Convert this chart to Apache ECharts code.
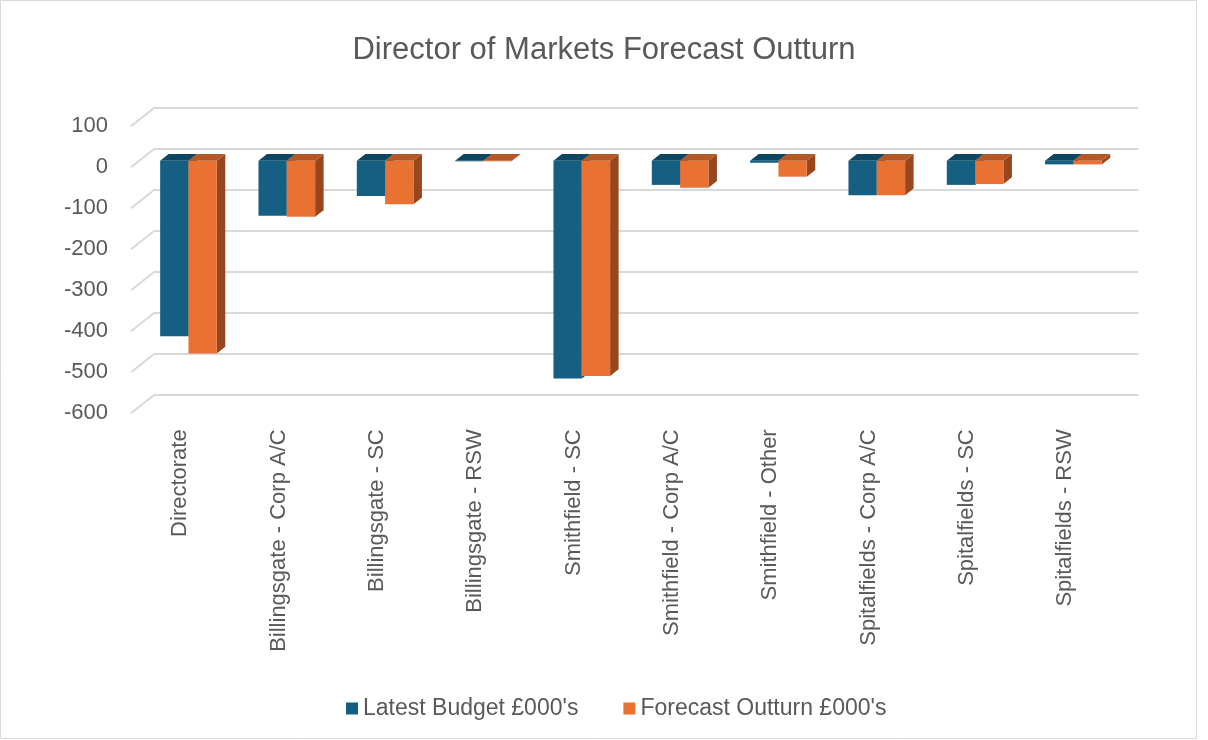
<!DOCTYPE html>
<html>
<head>
<meta charset="utf-8">
<script src="https://cdn.jsdelivr.net/npm/echarts@6/dist/echarts.min.js"></script>
<style>
html,body{margin:0;padding:0;background:#fff;}
#chart{width:1208px;height:740px;}
</style>
</head>
<body>
<div id="chart"></div>
<script>
// ---- data ----
const categories = [
  'Directorate',
  'Billingsgate - Corp A/C',
  'Billingsgate - SC',
  'Billingsgate - RSW',
  'Smithfield - SC',
  'Smithfield - Corp A/C',
  'Smithfield - Other',
  'Spitalfields - Corp A/C',
  'Spitalfields - SC',
  'Spitalfields - RSW'
];
const latestBudget = [-428, -134, -86, -1, -531, -59, -5, -84, -59, -9];
const forecastOutturn = [-470, -137, -106, -1, -525, -66, -39, -84, -57, -9];
const yTicks = [100, 0, -100, -200, -300, -400, -500, -600];
const seriesNames = ["Latest Budget £000's", "Forecast Outturn £000's"];

// ---- style ----
const FONT = 'Liberation Sans, Arial, sans-serif';
const TEXT = '#595959';
const GRIDC = '#d9d9d9';
const PLOT_W = 983.3, PLOT_H = 287;
const DEPTH = [-24, 19];      // back wall -> front floor edge
const BAR_D = [8.5, -6.7];    // bar depth (front face -> back)
const palettes = [
  {front: '#156082', top: '#0e4661', side: '#0f4a66'},
  {front: '#e97132', top: '#b55827', side: '#98461d'}
];

function barRenderer(side) {
  const pal = palettes[side];
  return function (params, api) {
    const i = api.value(0), v = api.value(1);
    const c0 = api.coord([i, 0]);
    const c1 = api.coord([i, v]);
    const band = api.size([1, 0])[0];
    const w = band * 0.288;
    const xl = side === 0 ? c0[0] - w : c0[0];
    const xr = xl + w;
    const top = Math.min(c0[1], c1[1]);
    const bot = Math.max(c0[1], c1[1]);
    const dx = BAR_D[0], dy = BAR_D[1];
    return {
      type: 'group',
      children: [
        {type: 'polygon', shape: {points: [[xr, top], [xr + dx, top + dy], [xr + dx, bot + dy], [xr, bot]]},
         style: {fill: pal.side}},
        {type: 'polygon', shape: {points: [[xl, top], [xl + dx, top + dy], [xr + dx, top + dy], [xr, top]]},
         style: {fill: pal.top}},
        {type: 'rect', shape: {x: xl, y: top, width: w, height: Math.max(bot - top, 0.6)},
         style: {fill: pal.front}}
      ]
    };
  };
}

function diagRenderer(params, api) {
  const p = api.coord([0, api.value(1)]);
  const band = api.size([1, 0])[0];
  const x = p[0] - band / 2;
  return {
    type: 'line',
    shape: {x1: x, y1: p[1], x2: x + DEPTH[0], y2: p[1] + DEPTH[1]},
    style: {stroke: GRIDC, lineWidth: 2}
  };
}

const chart = echarts.init(document.getElementById('chart'));
const hiddenX = (idx) => ({
  type: 'category', gridIndex: idx, data: categories, boundaryGap: true,
  axisLine: {show: false}, axisTick: {show: false}, axisLabel: {show: false}, splitLine: {show: false}
});
const valueY = (idx, extra) => Object.assign({
  type: 'value', gridIndex: idx, min: -600, max: 100, interval: 100,
  axisLine: {show: false}, axisTick: {show: false}, axisLabel: {show: false}, splitLine: {show: false}
}, extra || {});

chart.setOption({
  backgroundColor: '#ffffff',
  animation: false,
  textStyle: {fontFamily: FONT},
  title: {
    text: 'Director of Markets Forecast Outturn',
    left: 'center', top: 30,
    textStyle: {fontFamily: FONT, fontSize: 31, fontWeight: 'normal', color: TEXT}
  },
  legend: {
    data: seriesNames,
    left: 341, top: 692,
    icon: 'rect', itemWidth: 12, itemHeight: 12, itemGap: 45,
    textStyle: {fontFamily: FONT, fontSize: 23, color: TEXT}
  },
  grid: [
    // 0: bar front-face plane
    {left: 139.3, top: 119.7, width: PLOT_W, height: PLOT_H},
    // 1: front (labels) plane
    {left: 131, top: 126.3, width: PLOT_W, height: PLOT_H},
    // 2: back wall plane
    {left: 155, top: 107.3, width: PLOT_W, height: PLOT_H}
  ],
  xAxis: [
    hiddenX(0),
    Object.assign(hiddenX(1), {
      axisLabel: {show: true, interval: 0, rotate: 90, margin: 16, fontSize: 22, color: TEXT, fontFamily: FONT}
    }),
    hiddenX(2)
  ],
  yAxis: [
    valueY(0),
    valueY(1, {axisLabel: {show: true, margin: 23, fontSize: 22, color: TEXT, fontFamily: FONT}}),
    valueY(2, {splitLine: {show: true, lineStyle: {color: GRIDC, width: 2}}})
  ],
  series: [
    {
      name: 'diagonals', type: 'custom', xAxisIndex: 2, yAxisIndex: 2,
      renderItem: diagRenderer, silent: true, z: 1,
      data: yTicks.map(v => [0, v])
    },
    {
      name: seriesNames[0], type: 'custom', xAxisIndex: 0, yAxisIndex: 0,
      renderItem: barRenderer(0), itemStyle: {color: palettes[0].front}, z: 5,
      data: latestBudget.map((v, i) => [i, v])
    },
    {
      name: seriesNames[1], type: 'custom', xAxisIndex: 0, yAxisIndex: 0,
      renderItem: barRenderer(1), itemStyle: {color: palettes[1].front}, z: 5,
      data: forecastOutturn.map((v, i) => [i, v])
    }
  ],
  graphic: [{
    type: 'rect', silent: true, z: -1,
    shape: {x: 0.5, y: 0.5, width: 1196, height: 738},
    style: {fill: 'none', stroke: '#d9d9d9', lineWidth: 1}
  }]
});
</script>
</body>
</html>
